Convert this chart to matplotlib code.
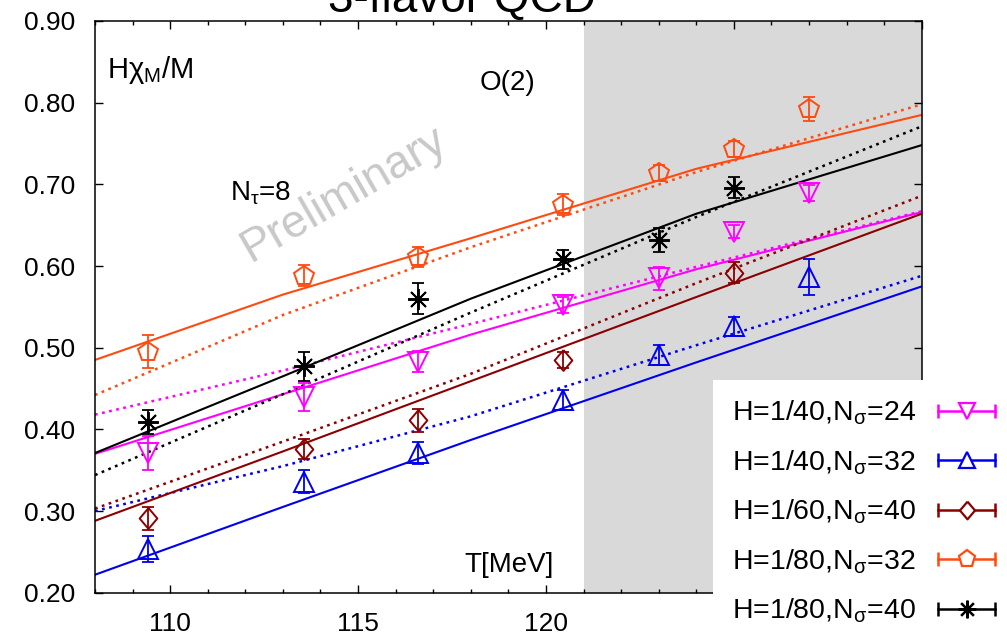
"""H chi_M / M vs T, 3-flavor QCD, N_tau=8 (preliminary)."""
import numpy as np
import matplotlib
matplotlib.use("Agg")
import matplotlib.pyplot as plt
from matplotlib.lines import Line2D
from matplotlib.legend_handler import HandlerLine2D
from matplotlib.ticker import MultipleLocator, FormatStrFormatter

plt.rcParams.update({
    "font.family": "Liberation Sans",
    "mathtext.fontset": "custom",
    "mathtext.rm": "Liberation Sans",
    "mathtext.it": "Liberation Sans",
    "mathtext.bf": "Liberation Sans:bold",
})

# --- data ---
T = [109.4, 113.55, 116.6, 120.45, 123.0, 125.0, 127.0]
T_red = [109.4, 113.55, 116.6, 120.45, 125.0]
T_blk = [109.4, 113.55, 116.6, 120.45, 123.0, 125.0]

y_mag = [0.371, 0.440, 0.483, 0.552, 0.585, 0.642, 0.689]
e_mag = [0.021, 0.017, 0.013, 0.010, 0.014, 0.008, 0.010]
y_blu = [0.254, 0.336, 0.371, 0.436, 0.491, 0.526, 0.587]
e_blu = [0.016, 0.014, 0.014, 0.012, 0.012, 0.012, 0.022]
y_red = [0.291, 0.376, 0.411, 0.485, 0.592]
e_red = [0.014, 0.012, 0.0145, 0.010, 0.013]
y_org = [0.495, 0.588, 0.611, 0.675, 0.7135, 0.743, 0.792]
e_org = [0.020, 0.013, 0.012, 0.013, 0.010, 0.010, 0.015]
y_blk = [0.409, 0.477, 0.560, 0.608, 0.632, 0.696]
e_blk = [0.015, 0.018, 0.019, 0.012, 0.015, 0.013]

# fit curves (solid / dotted)
T_fit = [108, 113, 118, 124, 130]
fit_org = [0.485, 0.565, 0.634, 0.719, 0.785]
fit_org_d = [0.442, 0.540, 0.623, 0.715, 0.798]
fit_blk = [0.371, 0.465, 0.560, 0.664, 0.748]
fit_blk_d = [0.344, 0.443, 0.543, 0.660, 0.771]
fit_mag = [0.370, 0.443, 0.516, 0.596, 0.666]
fit_mag_d = [0.418, 0.472, 0.529, 0.599, 0.667]
fit_red = [0.288, 0.373, 0.459, 0.562, 0.664]
fit_red_d = [0.303, 0.385, 0.468, 0.579, 0.686]
fit_blu = [0.222, 0.305, 0.387, 0.482, 0.575]
fit_blu_d = [0.300, 0.355, 0.416, 0.503, 0.588]

T_shade = (121, 130)
labels = [r"H=1/40,N$_\sigma$=24", r"H=1/40,N$_\sigma$=32", r"H=1/60,N$_\sigma$=40",
          r"H=1/80,N$_\sigma$=32", r"H=1/80,N$_\sigma$=40"]

MAG, BLU, RED, ORG, BLK = "#ff00ff", "#0000f0", "#8b0000", "#ff4a10", "#000000"
DIAMOND = [(0, 1), (0.85, 0), (0, -1), (-0.85, 0), (0, 1)]
ASTER = (8, 2, 0)

series = [
    (T, y_mag, e_mag, MAG, "v", 14),
    (T, y_blu, e_blu, BLU, "^", 14),
    (T_red, y_red, e_red, RED, DIAMOND, 15),
    (T, y_org, e_org, ORG, "p", 14.5),
    (T_blk, y_blk, e_blk, BLK, ASTER, 15),
]
fits = [(fit_mag, fit_mag_d, MAG), (fit_blu, fit_blu_d, BLU), (fit_red, fit_red_d, RED),
        (fit_org, fit_org_d, ORG), (fit_blk, fit_blk_d, BLK)]

W, H = 1007, 638
fig = plt.figure(figsize=(W / 100, H / 100), dpi=100)
ax = fig.add_axes([95 / W, 1 - 592.7 / H, 826.7 / W, 571.7 / H])

ax.axvspan(*T_shade, color="#d9d9d9", lw=0, zorder=0)

DOT = (0, (1.1, 1.8))
for solid, dotted, c in fits:
    ax.plot(T_fit, solid, color=c, lw=1.5, zorder=2)
    ax.plot(T_fit, dotted, color=c, lw=1.8, ls=DOT, zorder=2)

for x, y, e, c, m, ms in series:
    ax.errorbar(x, y, yerr=e, fmt="none", ecolor=c, elinewidth=1.3, capsize=4, capthick=1.3, zorder=3)
    ax.plot(x, y, ls="none", marker=m, ms=ms, mfc="none", mec=c, mew=1.4, zorder=4)

ax.set_xlim(108, 130)
ax.set_ylim(0.20, 0.90)
ax.xaxis.set_major_locator(MultipleLocator(5))
ax.xaxis.set_minor_locator(MultipleLocator(1))
ax.yaxis.set_major_locator(MultipleLocator(0.1))
ax.yaxis.set_major_formatter(FormatStrFormatter("%.2f"))
ax.tick_params(which="both", direction="in", top=True, right=True, width=1.0,
               labelsize=19, pad=14)
ax.tick_params(which="major", length=6)
ax.tick_params(which="minor", length=3)
for s in ax.spines.values():
    s.set_linewidth(1.1)

ax.text(0.0145, 0.900, r"H$\chi_{\rm M}$/M", transform=ax.transAxes, fontsize=21,
        ha="left", va="baseline")
ax.text(0.4657, 0.879, "O(2)", transform=ax.transAxes, fontsize=20, ha="left", va="baseline")
ax.text(0.1633, 0.6866, r"N$_\tau$=8", transform=ax.transAxes, fontsize=20,
        ha="left", va="baseline")
ax.text(0.301, 0.6956, "Preliminary", transform=ax.transAxes, fontsize=33, color="#c8c8c8",
        rotation=30, ha="center", va="center", rotation_mode="anchor", zorder=1)
ax.text(0.5544, 0.0367, "T[MeV]", transform=ax.transAxes, fontsize=20, ha="right", va="baseline")
fig.text(462 / W, 1 - 11.5 / H, "3-flavor QCD", fontsize=33, ha="center", va="baseline")

# gnuplot-style legend: label then |--marker--|
handles, hmap = [], {}
for x, y, e, c, m, ms in series:
    caps = Line2D([], [], color=c, lw=1.8, marker="|", ms=10, mew=1.8)
    mk = Line2D([], [], color=c, ls="none", marker=m, ms=ms * 0.85, mfc="white", mec=c, mew=1.6)
    hmap[caps] = HandlerLine2D(numpoints=2, marker_pad=0.0)
    handles.append((caps, mk))
fig.legend(handles, labels, handler_map=hmap, loc="upper left",
           bbox_to_anchor=(713 / W, 1 - 380 / H), frameon=True, facecolor="white",
           edgecolor="none", framealpha=1, fancybox=False, borderpad=0.65, borderaxespad=0,
           handlelength=2.0, handletextpad=0.8, labelspacing=0.74, markerfirst=False,
           fontsize=20.5)

fig.savefig("out.png", dpi=100)
